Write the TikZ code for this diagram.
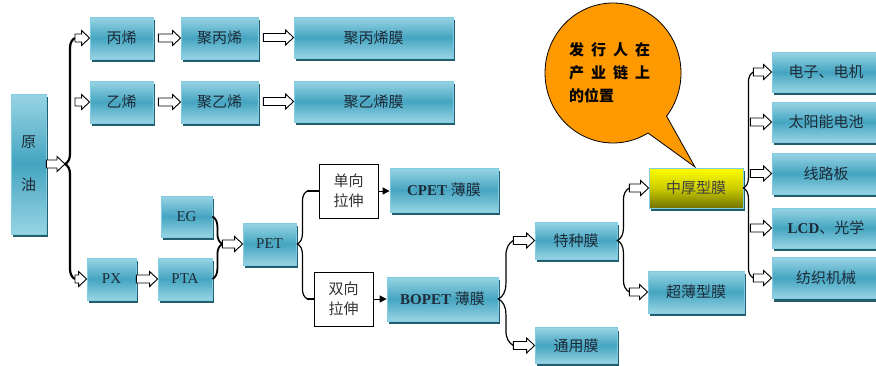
\documentclass[tikz,border=0pt]{standalone}
\usepackage{fontspec}
\setmainfont{Liberation Serif}
\newfontfamily\cjk{Noto Sans CJK SC}
\usetikzlibrary{calc,shadows,arrows.meta,decorations.pathreplacing}

\definecolor{boxtop}{HTML}{98D4E4}
\definecolor{boxmid}{HTML}{45A5C1}
\definecolor{boxedge}{HTML}{80CDE3}
\definecolor{boxshade}{HTML}{245D6C}
\definecolor{boxtext}{HTML}{1E2B38}
\definecolor{bubble}{HTML}{FF9900}

\newcommand\zh[1]{{\cjk #1}}
\newcommand\filmarrow[2]{%
  \path[draw,hollowarrow] let \p1=#1, \p2=#2 in
    (\x1,\y2+4pt) -- (\x2-8pt,\y2+4pt) -- (\x2-8pt,\y2+7.5pt) -- (\x2,\y2)
    -- (\x2-8pt,\y2-7.5pt) -- (\x2-8pt,\y2-4pt) -- (\x1,\y2-4pt) -- cycle;}

\tikzset{
  film/.style={draw=boxedge, line width=0.8pt, top color=boxtop,
    bottom color=boxtop, middle color=boxmid, text=boxtext, inner sep=0pt,
    font=\fontsize{15}{17}\selectfont, align=center,
    drop shadow={shadow xshift=2pt, shadow yshift=-3pt, fill=boxshade, opacity=1}},
  gold/.style={film, top color=yellow, bottom color=yellow!45!black,
    middle color=yellow!80!black, text=black!75},
  stretch/.style={draw, line width=1pt, fill=white, text=black!80, inner sep=0pt,
    align=center, font=\fontsize{15}{20}\selectfont},
  hollowarrow/.style={fill=white, line width=0.9pt, line join=miter},
  curl/.style={draw, line width=1.2pt, decorate},
  pointer/.style={draw, line width=1pt, -{Triangle[length=7pt,width=7pt]}}
}

\begin{document}
\begin{tikzpicture}[x=1pt, y=-1pt]
  \useasboundingbox (0,0) rectangle (876,365);

  % boxes
  \node[film, minimum width=35pt, minimum height=140pt] (crude) at (28.5,164) {\zh{原}\\[26pt]\zh{油}};
  \node[film, minimum width=63pt, minimum height=42pt] (propylene) at (121.5,38) {\zh{丙烯}};
  \node[film, minimum width=77pt, minimum height=42pt] (pp) at (219.5,38) {\zh{聚丙烯}};
  \node[film, minimum width=159pt, minimum height=41pt] (ppfilm) at (373.5,37.5) {\zh{聚丙烯膜}};
  \node[film, minimum width=63pt, minimum height=42pt] (ethylene) at (121.5,102) {\zh{乙烯}};
  \node[film, minimum width=77pt, minimum height=42pt] (pe) at (219.5,102) {\zh{聚乙烯}};
  \node[film, minimum width=159pt, minimum height=41pt] (pefilm) at (373.5,101.5) {\zh{聚乙烯膜}};
  \node[film, minimum width=51pt, minimum height=41pt] (eg) at (186.5,216.5) {EG};
  \node[film, minimum width=49pt, minimum height=42pt] (px) at (111.5,279) {PX};
  \node[film, minimum width=54pt, minimum height=42pt] (pta) at (185,279) {PTA};
  \node[film, minimum width=53pt, minimum height=42pt] (pet) at (269.5,244) {PET};
  \node[stretch, minimum width=59pt, minimum height=54pt] (uni) at (348.5,191) {\zh{单向}\\\zh{拉伸}};
  \node[film, minimum width=108pt, minimum height=44pt] (cpet) at (444,190) {\textbf{CPET} \zh{薄膜}};
  \node[stretch, minimum width=59pt, minimum height=54pt] (bi) at (343.5,299) {\zh{双向}\\\zh{拉伸}};
  \node[film, minimum width=111pt, minimum height=44pt] (bopet) at (442.5,299) {\textbf{BOPET} \zh{薄膜}};
  \node[film, minimum width=82pt, minimum height=37pt] (special) at (576,240.5) {\zh{特种膜}};
  \node[film, minimum width=82pt, minimum height=36pt] (general) at (576,345.5) {\zh{通用膜}};
  \node[gold, minimum width=94pt, minimum height=40pt] (thick) at (696,188) {\zh{中厚型膜}};
  \node[film, minimum width=96pt, minimum height=42pt] (ultra) at (696,292) {\zh{超薄型膜}};
  \node[film, minimum width=108pt, minimum height=40pt] (motor) at (826,72) {\zh{电子、电机}};
  \node[film, minimum width=108pt, minimum height=40pt] (solar) at (826,122) {\zh{太阳能电池}};
  \node[film, minimum width=108pt, minimum height=41pt] (pcb) at (826,173.5) {\zh{线路板}};
  \node[film, minimum width=108pt, minimum height=40pt] (lcd) at (826,228) {\textbf{LCD}\zh{、光学}};
  \node[film, minimum width=108pt, minimum height=41pt] (textile) at (826,278) {\zh{纺织机械}};

  % brace spines
  \coordinate (s1) at (75,0);
  \coordinate (s2) at ($(pet.east)+(11,0)$);
  \coordinate (s3) at ($(bopet.east)+(15,0)$);
  \coordinate (s4) at ($(special.east)+(12,0)$);
  \coordinate (s5) at ($(thick.east)+(10,0)$);
  \coordinate (s5b) at ($(thick.east)+(7,0)$);

  % crude oil branches
  \path[curl, line width=2.2pt, decoration={brace, amplitude=10pt, aspect=0.477}] (s1 |- px) -- (s1 |- propylene);
  \filmarrow{(crude.east)}{($(s1 |- crude)+(-10,0)$)}
  \filmarrow{(s1 |- propylene)}{(propylene.west)}
  \filmarrow{(s1 |- ethylene)}{(ethylene.west)}
  \filmarrow{(s1 |- px)}{(px.west)}
  \filmarrow{($(propylene.east)+(5,0)$)}{(pp.west)}
  \filmarrow{($(pp.east)+(5,0)$)}{(ppfilm.west)}
  \filmarrow{($(ethylene.east)+(5,0)$)}{(pe.west)}
  \filmarrow{($(pe.east)+(5,0)$)}{(pefilm.west)}
  \filmarrow{(px.east)}{(pta.west)}

  % PET
  \path[curl, line width=1.8pt, decoration={brace, amplitude=10pt, aspect=0.44}] (eg.east) -- (pta.east);
  \filmarrow{($(eg.east)!0.5!(pta.east)+(10,0)$)}{(pet.west)}
  \path[curl, decoration={brace, amplitude=10pt, aspect=0.51}] (s2 |- bi) -- (s2 |- uni);
  \path[draw, line width=1.2pt] (s2 |- uni) -- (uni.west);
  \path[draw, line width=1.2pt] (s2 |- bi) -- (bi.west);
  \path[pointer] (uni.east) -- (uni.east -| cpet.west);
  \path[pointer] (bi.east) -- (bi.east -| bopet.west);

  % BOPET films
  \path[curl, decoration={brace, amplitude=15pt, aspect=0.443}] (s3 |- general) -- (s3 |- special);
  \filmarrow{(s3 |- special)}{(special.west)}
  \filmarrow{(s3 |- general)}{(general.west)}
  \path[curl, decoration={brace, amplitude=12pt, aspect=0.495}] (s4 |- ultra) -- (s4 |- thick);
  \filmarrow{(s4 |- thick)}{(thick.west)}
  \filmarrow{(s4 |- ultra)}{(ultra.west)}

  % uses
  \path[curl, decoration={brace, amplitude=10pt, aspect=0.437}] (s5 |- textile) -- (s5 |- motor);
  \filmarrow{(s5 |- motor)}{(motor.west)}
  \filmarrow{(s5b |- solar)}{(solar.west)}
  \filmarrow{(s5b |- pcb)}{(pcb.west)}
  \filmarrow{(s5b |- lcd)}{(lcd.west)}
  \filmarrow{(s5 |- textile)}{(textile.west)}

  % callout
  \path[draw, fill=bubble, line width=0.8pt] (695,167) -- (666.6,116.1)
    arc[start angle=-38, end angle=301, x radius=68pt, y radius=70pt] -- cycle;
  \node[anchor=west, align=left, inner sep=0pt, font=\cjk\bfseries\fontsize{15}{23}\selectfont] (issuer) at (569,73)
    {发\hspace{7pt}行\hspace{7pt}人\hspace{7pt}在\\产\hspace{7pt}业\hspace{7pt}链\hspace{7pt}上\\的位置};
\end{tikzpicture}
\end{document}
